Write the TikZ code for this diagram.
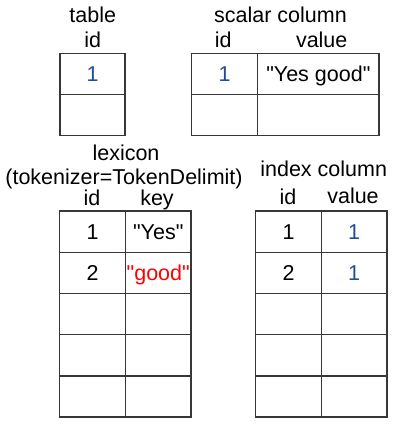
\documentclass[tikz,border=0pt]{standalone}
\usepackage{fontspec}
\setmainfont{Liberation Sans}[Ligatures=TeXOff]
\definecolor{numblue}{RGB}{35,75,150}
\definecolor{gridline}{RGB}{55,55,55}
% straight double quotes around a string value
\newcommand{\strval}[1]{"#1"}
\begin{document}
\begin{tikzpicture}[x=1bp,y=-1bp,
  every node/.style={font=\fontsize{21.5bp}{25bp}\selectfont},
  title/.style={anchor=base, inner sep=0pt},
  cell/.style={draw=gridline, line width=1.4bp, minimum height=41.2bp,
    minimum width=#1, inner sep=0pt, text height=15.5bp, text depth=0pt},
  num/.style={text=numblue},
  hit/.style={text=red}]
\useasboundingbox (0,0) rectangle (400,425);

% table
\node[title] (tTitle) at (92.7,22.7) {table};
\node[title] (tId) at (92.7,47) {id};
\node[cell=65bp, num] (t1) at (92.6,73.8) {1};
\node[cell=65bp] (t2) at (92.6,114.8) {};

% scalar column
\node[title] (sTitle) at (280.5,22.7) {scalar column};
\node[title] (sId) at (223.3,47) {id};
\node[title] (sVal) at (321.7,47) {value};
\node[cell=66bp, num] (s1id) at (224.7,73.8) {1};
\node[cell=121.3bp] (s1val) at (318.35,73.8) {\strval{Yes good}};
\node[cell=66bp] (s2id) at (224.7,114.8) {};
\node[cell=121.3bp] (s2val) at (318.35,114.8) {};

% lexicon
\node[title] (lTitle) at (126,160) {lexicon};
\node[title] (lTok) at (124,184) {(tokenizer=TokenDelimit)};
\node[title] (lId) at (92,205) {id};
\node[title] (lKey) at (157,205) {key};
\node[cell=66bp] (lid1) at (92.5,231.6) {1};
\node[cell=65.5bp] (lkey1) at (158.25,231.6) {\strval{Yes}};
\node[cell=66bp] (lid2) at (92.5,272.8) {2};
\node[cell=65.5bp, hit] (lkey2) at (158.25,272.8) {\strval{good}};
\foreach \r in {3,4,5} {
  \node[cell=66bp] (lid\r) at (92.5,{211+41.2*(\r-0.5)}) {};
  \node[cell=65.5bp] (lkey\r) at (158.25,{211+41.2*(\r-0.5)}) {};
}

% index column
\node[title] (iTitle) at (323.7,176) {index column};
\node[title] (iId) at (288,204) {id};
\node[title] (iVal) at (353,203) {value};
\node[cell=65.6bp] (iid1) at (288.5,231.6) {1};
\node[cell=65.7bp, num] (ival1) at (354.15,231.6) {1};
\node[cell=65.6bp] (iid2) at (288.5,272.8) {2};
\node[cell=65.7bp, num] (ival2) at (354.15,272.8) {1};
\foreach \r in {3,4,5} {
  \node[cell=65.6bp] (iid\r) at (288.5,{211+41.2*(\r-0.5)}) {};
  \node[cell=65.7bp] (ival\r) at (354.15,{211+41.2*(\r-0.5)}) {};
}
\end{tikzpicture}
\end{document}
